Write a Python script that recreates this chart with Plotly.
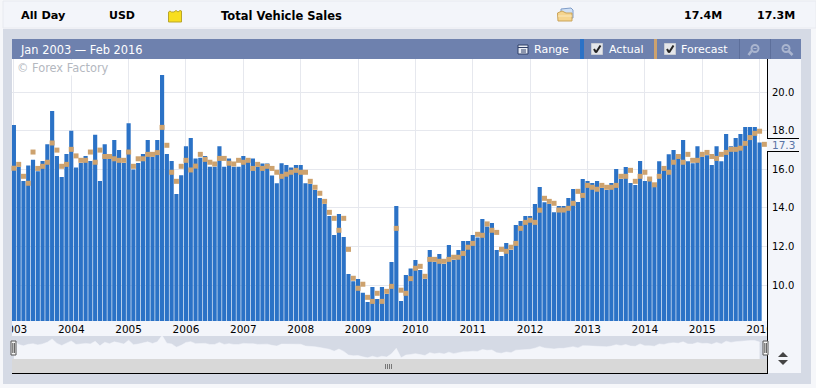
import plotly.graph_objects as go

W, H = 816, 388

actual = [18.3,16.14,15.4,16.2,16.5,15.9,16.43,17.3,19.03,16.7,15.6,16.8,
 18.0,16.1,16.33,16.7,16.43,17.8,15.4,17.3,16.54,17.53,17.0,16.33,
 18.4,16.0,16.33,16.8,17.52,16.66,17.52,20.9,16.8,16.43,14.72,15.7,
 17.2,17.63,16.57,16.6,16.7,16.14,16.14,17.2,16.14,16.57,16.14,16.14,
 16.7,16.57,16.57,16.14,16.3,16.3,15.68,15.28,16.32,16.23,16.1,16.23,
 16.23,15.28,15.24,14.93,14.52,14.2,13.58,12.6,13.68,12.49,10.57,10.2,
 10.31,9.6,9.12,9.9,9.28,9.9,9.53,11.2,14.1,9.17,10.52,10.85,
 11.3,10.78,10.31,11.82,11.19,11.61,11.09,12.08,11.3,11.82,12.28,12.28,
 12.6,12.46,13.43,13.03,13.22,11.82,11.5,12.18,11.82,13.11,13.32,13.58,
 13.58,14.2,15.09,14.29,14.2,13.77,14.1,14.1,14.52,14.98,14.31,15.5,
 15.4,15.29,15.4,15.03,14.93,15.29,16.02,15.5,16.12,15.29,15.19,16.44,
 15.4,15.47,15.2,16.42,16.16,16.78,17.0,16.78,17.52,16.42,16.32,17.2,
 16.66,16.73,16.23,17.2,16.42,17.84,17.2,17.63,17.84,18.2,18.2,18.2,
 17.4]
forecast = [16.06,16.26,15.64,15.28,16.9,16.05,16.16,16.37,17.37,17.0,16.16,16.26,
 17.04,16.7,16.47,16.47,16.9,16.37,17.0,16.67,16.67,16.55,16.47,16.47,
 16.9,16.16,16.55,16.55,16.78,16.78,16.87,18.18,17.25,15.85,15.38,16.16,
 16.47,15.97,16.17,16.78,16.52,16.37,16.28,16.57,16.57,16.32,16.28,16.47,
 16.37,16.47,16.05,16.26,16.05,16.16,16.05,15.85,15.64,15.75,15.85,15.95,
 15.85,15.85,15.38,15.07,14.76,14.34,13.77,13.46,12.84,13.46,11.85,10.35,
 9.83,10.04,9.36,9.15,9.57,9.15,9.67,9.93,12.94,9.73,9.57,10.33,
 10.87,10.97,10.45,11.33,11.33,11.23,11.23,11.33,11.44,11.44,11.64,11.96,
 12.16,12.63,12.58,13.17,12.84,12.73,11.85,11.75,11.96,12.16,12.94,13.25,
 13.36,13.25,13.88,14.5,14.34,14.24,13.89,13.89,13.98,14.24,14.86,14.65,
 15.17,15.07,14.97,15.17,15.07,15.07,15.17,15.64,15.64,15.95,15.38,15.64,
 15.85,15.5,15.2,15.64,16.05,15.85,16.37,16.67,16.37,16.78,16.47,16.47,
 16.78,16.88,16.67,16.57,16.78,16.88,17.04,17.04,17.1,17.35,17.65,17.87,
 17.98,17.3]
year_labels = ["2003","2004","2005","2006","2007","2008","2009","2010","2011","2012","2013","2014","2015","2016"]
year_positions = [0,12,24,36,48,60,72,84,96,108,120,132,144,156]
y_ticks = [10,12,14,16,18,20]
months_actual = list(range(len(actual)))
months_forecast = list(range(len(forecast)))

BAR = "#2B72C6"; TAN = "#CDA26E"; PANEL = "#D5DAE5"; LIGHT = "#F3F5FA"; HEAD = "#6E81AE"; GRID = "#E6E8EE"

def px(x): return x / W
def py(y): return 1 - y / H

shapes = []
def rect(x0, y0, x1, y1, fill, layer="below", line=None, lw=1):
    shapes.append(dict(type="rect", xref="paper", yref="paper", x0=px(x0), x1=px(x1), y0=py(y0), y1=py(y1),
                       fillcolor=fill, line=dict(color=line or fill, width=lw if line else 0), layer=layer))
def line(x0, y0, x1, y1, color="#000000", w=1, layer="above"):
    shapes.append(dict(type="line", xref="paper", yref="paper", x0=px(x0), x1=px(x1), y0=py(y0), y1=py(y1),
                       line=dict(color=color, width=w), layer=layer))
def poly(pts, fill, color=None, w=1, layer="above"):
    d = "M" + " L".join(f"{px(a):.5f},{py(b):.5f}" for a, b in pts) + " Z"
    shapes.append(dict(type="path", xref="paper", yref="paper", path=d, fillcolor=fill,
                       line=dict(color=color or fill, width=w if color else 0), layer=layer))
def circle(x0, y0, x1, y1, color, w=1.5):
    shapes.append(dict(type="circle", xref="paper", yref="paper", x0=px(x0), x1=px(x1), y0=py(y0), y1=py(y1),
                       fillcolor="rgba(0,0,0,0)", line=dict(color=color, width=w), layer="above"))

# frame
rect(0, 0, W, H, "#F6F7FA")
rect(3, 1, W, 28, LIGHT, line="#E8EAF0")
rect(3, 29, 811, 384, PANEL)
rect(12, 39, 801, 373, LIGHT)
rect(12, 39, 801, 59, HEAD)
rect(12, 59, 767, 321, "#FFFFFF")
rect(12, 321, 767, 336, LIGHT)
rect(12, 336, 767, 359, PANEL)
rect(12, 359, 767, 373, "#D8D8D8")

# masks clipping the axis labels at the plot edges
rect(0, 321, 12, 336, PANEL, layer="above")
rect(0, 321, 3, 336, "#F6F7FA", layer="above")
rect(767, 321, 801, 336, LIGHT, layer="above")

# axis lines
line(767.5, 59, 767.5, 138.5)
line(767.5, 151.5, 767.5, 373.5)
line(767, 138.5, 799, 138.5)
line(767, 151.5, 799, 151.5)
line(12, 373.5, 768, 373.5)

# toolbar separators and toggles
rect(580, 39, 584, 59, BAR, layer="above")
rect(654, 39, 657, 59, TAN, layer="above")
line(739.5, 39, 739.5, 59, "#5D6F9B")
line(770.5, 39, 770.5, 59, "#5D6F9B")
for cx in (597, 670):
    rect(cx-5.5, 43.5, cx+5.5, 54.5, "#E4E6EA", layer="above", line="#C8CCD4")
    line(cx-3, 49, cx-1, 52.5, "#222222", 2)
    line(cx-1, 52.5, cx+3.5, 45.5, "#222222", 2)
# calendar icon
rect(518, 45, 528, 54, "#E8ECF4", layer="above", line="#2F3F66")
line(518, 47.5, 528, 47.5, "#2F3F66")
line(521, 50, 526, 50, "#2F3F66"); line(521, 52, 526, 52, "#2F3F66")
# zoom icons
for cx, c in ((755.5, "#AAB5CF"), (786.5, "#AAB5CF")):
    circle(cx-4, 45, cx+3, 52, c, 2)
    line(cx+(-4 if cx < 770 else 2), 51 , cx+(-7 if cx < 770 else 6), 55, c, 2.5)
    line(cx-2, 48.5, cx+1, 48.5, c, 1)

# yellow folder
poly([(168.5,12),(170,11),(171.5,12),(174,12),(176,10.5),(178,12),(180,10.5),(181.5,11),(181.5,22),(168.5,22)],
     "#F8DE1E", "#B9A62A", 1)
# open-folder icon
poly([(561,9),(571,8),(573,10),(573,18),(561,18)], "#CFE0F5", "#7F9CC8", 1)
poly([(557.5,13),(562,11),(566,13),(572,13),(572,21),(558,21)], "#F6D58E", "#C9A35A", 1)
line(558, 16, 572, 16, "#FBE9BE", 1)

# navigator handles and grips
for cx in (13.5, 765.5):
    rect(cx-2.5, 341, cx+2.5, 355, "#F7F7F7", layer="above", line="#555555")
    line(cx-0.7, 343, cx-0.7, 353, "#555555"); line(cx+0.9, 343, cx+0.9, 353, "#555555")
for gx in (385.5, 387.5, 389.5, 391.5):
    line(gx, 364, gx, 369, "#777777")
poly([(778,357),(788,357),(783,352)], "#444444")
poly([(778,360),(788,360),(783,365)], "#444444")

def note(x, y, text, color="#000000", size=11, bold=False, family="DejaVu Sans", bg=None, anchor="left"):
    return dict(xref="paper", yref="paper", x=px(x), y=py(y), text=f"<b>{text}</b>" if bold else text, showarrow=False,
                xanchor=anchor, yanchor="middle", font=dict(family=family, size=size, color=color),
                bgcolor=bg, borderpad=0)

annotations = [
    note(19.5, 16, "All Day", bold=True, size=11.3),
    note(107.5, 16, "USD", bold=True),
    note(220, 16, "Total Vehicle Sales", bold=True, size=11.5),
    note(683, 16, "17.4M", bold=True),
    note(756, 16, "17.3M", bold=True),
    note(18.5, 49.5, "Jan 2003 — Feb 2016", "#FFFFFF", 11.4),
    note(533, 49.5, "Range", "#FFFFFF", 11),
    note(608, 49.5, "Actual", "#FFFFFF", 11),
    note(680, 49.5, "Forecast", "#FFFFFF", 11),
    note(15.5, 67.5, "© Forex Factory", "#B4B8C0", 11.4, bg="#FFFFFF"),
    note(771, 145, "17.3", "#5A74A6", 10.5),
]

fig = go.Figure()
fig.add_trace(go.Bar(x=months_actual, y=actual, name="Actual", marker=dict(color=BAR, line=dict(width=0)),
                     xaxis="x", yaxis="y"))
fig.add_trace(go.Scatter(x=months_forecast, y=forecast, name="Forecast", mode="markers",
                         marker=dict(symbol="square", size=5, color=TAN, line=dict(width=0)), xaxis="x", yaxis="y",
                         cliponaxis=False))
fig.add_trace(go.Scatter(x=months_actual, y=actual, mode="lines", line=dict(color=LIGHT, width=0.5), fill="tozeroy",
                         fillcolor=LIGHT, xaxis="x2", yaxis="y2", hoverinfo="skip"))

x_range = [-0.397, 157.55]
fig.update_layout(
    width=W, height=H, autosize=False, margin=dict(l=0, r=0, t=0, b=0, pad=0, autoexpand=False), showlegend=False,
    paper_bgcolor="rgba(0,0,0,0)", plot_bgcolor="rgba(0,0,0,0)", bargap=0.13,
    shapes=shapes, annotations=annotations,
    font=dict(family="DejaVu Sans", size=11, color="#000000"),
    xaxis=dict(domain=[px(12), px(767)], range=x_range, tickmode="array", tickvals=year_positions, ticktext=year_labels,
               showgrid=True, gridcolor=GRID, gridwidth=1, zeroline=False, ticks="", showline=False,
               tickfont=dict(size=10.5, color="#000000"), anchor="y", ticklabelstandoff=0),
    yaxis=dict(domain=[py(321), py(59)], range=[8.132, 21.728], side="right", anchor="x", tickmode="array",
               tickvals=y_ticks, ticktext=[f"{v:.1f}" for v in y_ticks], showgrid=True, gridcolor=GRID, gridwidth=1,
               zeroline=False, ticks="", showline=False, tickfont=dict(size=10, color="#000000"), ticklabelstandoff=4),
    xaxis2=dict(domain=[px(12), px(767)], range=x_range, visible=False, anchor="y2"),
    yaxis2=dict(domain=[py(359), py(336)], range=[8.47, 20.6], visible=False, anchor="x2", showgrid=False),
)

fig.write_html("out.html", config=dict(displayModeBar=False),
               post_script="document.body.style.margin='0';document.body.style.overflow='hidden';")
